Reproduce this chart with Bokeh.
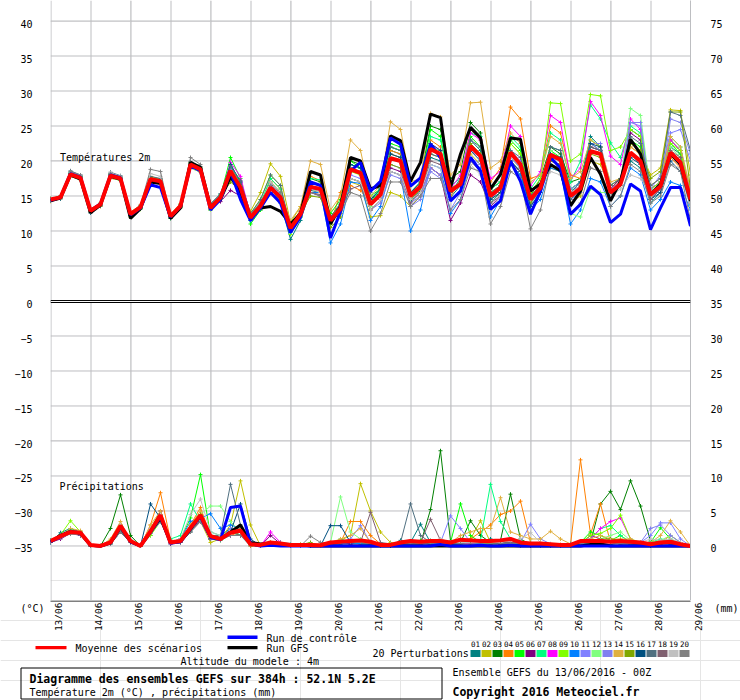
import math
from bokeh.plotting import figure
from bokeh.models import Range1d, LinearAxis, FixedTicker, Span, Label
from bokeh.layouts import column
from bokeh.embed import file_html
from bokeh.resources import INLINE
from bokeh.core.properties import value

FONT = "DejaVu Sans Mono"

# ---------------- data ----------------
dates = ["13/06", "14/06", "15/06", "16/06", "17/06", "18/06", "19/06", "20/06", "21/06",
         "22/06", "23/06", "24/06", "25/06", "26/06", "27/06", "28/06", "29/06"]
day_ticks = list(range(17))
temp_ticks = [40, 35, 30, 25, 20, 15, 10, 5, 0, -5, -10, -15, -20, -25, -30, -35]
prec_ticks = [75, 70, 65, 60, 55, 50, 45, 40, 35, 30, 25, 20, 15, 10, 5, 0]
hours = list(range(0, 385, 6))

member_labels = ["01", "02", "03", "04", "05", "06", "07", "08", "09", "10",
                 "11", "12", "13", "14", "15", "16", "17", "18", "19", "20"]
member_colors = ["#008080", "#C0C000", "#008000", "#FF8000", "#00FF00", "#800080", "#00FF80",
                 "#FF00FF", "#80FF00", "#0080FF", "#8080FF", "#80FF80", "#8080F0", "#E0B040",
                 "#80A800", "#005080", "#507080", "#806070", "#C0C0C0", "#808080"]

# temperature 2m (degC), 6-hourly
T_MEAN = [14.5,14.8,18.1,17.6, 12.9,13.8,17.9,17.5, 12.4,13.4,17.4,17.1, 12.1,13.6,19.5,18.8,
          13.3,14.8,18.6,16.2, 11.9,13.6,16.2,14.8, 10.4,12.4,16.3,16.0, 11.5,13.2,18.8,18.3,
          13.8,15.2,20.4,20.0, 15.0,16.4,21.7,21.0, 15.7,16.7,22.1,20.7, 15.0,16.2,21.2,19.5,
          14.5,16.2,20.9,20.2, 15.0,16.1,21.4,21.0, 15.5,16.7,21.2,20.0, 15.2,16.4,21.2,19.8, 14.5]
T_CTRL = [14.4,14.8,18.2,17.7, 12.9,13.9,18.0,17.6, 12.3,13.3,16.6,16.2, 12.0,13.5,19.3,18.6,
          13.0,14.5,18.5,14.5, 11.5,13.3,15.5,14.0, 9.8,12.0,17.0,16.5, 9.0,12.8,18.6,19.8,
          15.7,17.1,23.3,22.4, 16.4,17.6,22.4,20.5, 14.3,15.7,20.5,18.6, 13.1,14.3,20.0,17.1,
          12.4,15.7,20.5,19.0, 12.4,13.8,16.4,15.2, 11.2,12.4,16.7,15.7, 10.2,13.3,16.2,16.2, 10.7]
T_GFS = [14.3,14.7,18.0,17.4, 12.6,13.7,17.8,17.4, 11.8,13.2,17.0,16.8, 11.8,13.3,19.8,19.1,
         13.5,14.5,17.8,15.5, 12.0,13.3,13.5,12.8, 11.0,12.5,18.5,18.0, 11.0,13.5,20.5,20.0,
         16.0,16.5,23.6,22.9, 17.1,19.8,26.7,26.2, 16.2,21.0,24.8,23.3, 16.0,18.1,23.3,23.1,
         15.7,16.7,19.5,18.6, 13.6,15.7,20.5,18.1, 14.3,17.1,23.1,21.0, 15.2,16.7,21.0,19.5, 14.3]
T01 = [14.3,14.9,18.4,17.9, 12.6,13.6,18.2,17.8, 12.2,13.2,17.0,16.8, 12.0,13.4,19.8,19.0,
       13.8,15.3,19.5,17.0, 12.5,14.0,15.5,14.0, 8.8,11.5,15.8,15.5, 11.0,13.0,19.5,19.0,
       14.5,16.0,21.5,21.0, 14.2,15.8,20.5,20.0, 14.8,16.5,23.0,21.5, 14.0,15.5,19.5,18.0,
       13.5,15.5,22.0,21.5, 16.0,17.0,23.5,22.0, 16.5,17.5,20.0,19.0, 14.0,15.5,22.0,21.0, 15.0]
T02 = [14.6,15.0,18.0,17.5, 13.1,14.0,17.6,17.2, 12.7,13.7,17.8,17.4, 12.4,13.9,19.2,18.5,
       13.5,14.6,18.0,15.5, 12.8,15.5,19.6,17.8, 11.2,13.5,17.0,16.5, 12.0,13.5,17.0,16.5,
       12.0,12.2,15.5,15.0, 13.5,15.0,19.0,18.0, 14.5,15.5,21.0,19.5, 14.5,15.5,22.5,21.0,
       15.0,16.5,19.0,18.5, 14.0,15.0,20.0,19.5, 16.0,17.0,22.5,21.5, 18.0,19.0,27.3,27.2, 18.0]
T03 = [14.4,14.7,18.3,17.8, 12.8,13.9,18.1,17.6, 12.5,13.5,17.6,17.3, 12.2,13.7,19.7,18.9,
       13.0,14.5,17.5,15.8, 11.5,13.0,17.0,15.5, 10.0,12.0,17.5,17.0, 12.0,13.8,20.0,19.5,
       14.5,15.5,22.0,21.5, 16.5,17.5,25.0,24.5, 17.5,18.5,25.5,24.0, 16.0,17.0,20.0,18.5,
       15.0,17.5,22.0,21.0, 17.0,17.5,22.5,21.5, 15.0,16.5,24.5,23.5, 16.0,17.0,23.0,21.5, 15.5]
T04 = [14.2,14.6,17.8,17.3, 12.7,13.5,17.5,17.3, 12.3,13.3,17.2,16.9, 11.9,13.3,19.0,18.4,
       13.1,14.7,17.8,16.0, 12.0,13.5,17.5,16.0, 10.8,13.0,17.8,17.2, 11.0,15.5,16.5,15.8,
       14.0,15.0,21.5,21.0, 15.5,16.5,23.0,22.0, 15.0,17.0,24.5,23.0, 17.0,19.0,27.7,26.0,
       17.5,18.0,25.0,24.0, 18.0,17.5,22.0,21.5, 16.0,17.5,22.0,21.0, 15.0,16.0,20.5,19.0, 14.0]
T05 = [14.6,14.9,18.2,17.7, 13.0,13.9,17.8,17.4, 12.4,13.4,17.3,17.0, 11.9,13.5,19.3,18.7,
       13.2,15.0,20.5,17.5, 11.0,13.0,15.5,14.5, 10.0,12.5,17.0,16.5, 12.5,14.5,20.0,19.0,
       15.0,16.0,22.5,22.0, 15.5,17.0,24.5,23.5, 16.0,17.0,23.5,22.0, 15.5,16.5,23.0,21.5,
       14.0,15.5,21.5,20.5, 16.0,17.0,23.0,22.0, 15.5,17.0,23.0,22.0, 14.5,16.0,22.5,21.0, 13.5]
T06 = [14.4,14.8,18.0,17.5, 12.9,13.7,17.7,17.4, 12.3,13.3,17.2,16.9, 12.0,13.5,19.4,18.6,
       13.6,14.2,15.8,15.0, 12.0,13.8,16.5,15.0, 10.5,12.5,15.5,15.0, 11.5,12.5,17.5,17.0,
       13.0,14.5,19.0,18.5, 14.5,15.5,19.0,18.0, 11.5,14.0,18.0,17.0, 13.5,15.0,20.5,19.0,
       14.0,16.0,20.0,19.5, 15.5,16.5,22.0,21.5, 16.0,17.5,24.0,23.0, 14.5,16.0,21.0,19.5, 14.0]
T07 = [14.5,14.9,18.3,17.8, 12.8,13.8,18.0,17.6, 12.5,13.5,17.5,17.2, 12.2,13.7,19.6,18.9,
       13.4,15.2,19.2,16.8, 12.3,14.0,17.5,16.0, 10.2,12.5,17.5,17.3, 11.8,13.5,19.5,19.0,
       14.0,16.0,22.0,21.5, 15.0,16.5,23.5,23.0, 16.5,17.5,24.0,23.5, 16.0,17.0,23.5,22.0,
       16.0,18.0,24.0,23.0, 17.0,20.0,28.0,26.0, 22.6,20.5,25.0,24.0, 15.5,17.0,23.5,22.0, 15.0]
T08 = [14.5,14.7,18.0,17.6, 12.9,13.8,17.9,17.5, 12.4,13.4,17.4,17.1, 12.1,13.6,19.5,18.8,
       13.5,14.8,19.8,17.8, 12.2,13.5,16.5,15.0, 10.5,12.5,16.0,15.5, 11.5,13.0,19.0,18.5,
       14.0,15.5,21.0,20.5, 14.5,16.0,22.5,21.5, 16.0,18.0,24.0,23.0, 17.5,18.5,25.0,23.5,
       16.5,18.5,26.5,25.5, 17.5,19.0,28.5,26.5, 20.7,19.5,26.0,24.5, 16.0,17.0,23.0,21.5, 15.5]
T09 = [14.6,14.8,17.9,17.5, 12.8,13.7,17.8,17.3, 12.0,13.1,17.5,17.2, 11.8,13.4,19.7,19.0,
       13.0,14.5,18.5,16.0, 12.5,14.5,18.0,16.5, 9.5,12.0,16.0,15.5, 11.0,13.0,18.5,18.0,
       13.5,15.5,21.0,20.5, 14.5,16.0,21.5,21.0, 15.5,16.5,22.0,20.5, 14.5,16.5,22.5,21.0,
       15.5,17.5,28.3,28.2, 20.0,21.0,29.5,29.3, 21.5,22.0,24.5,23.5, 16.0,17.0,22.5,21.5, 15.0]
T10 = [14.4,14.7,18.0,17.5, 12.9,13.8,18.0,17.6, 12.4,13.3,17.3,17.0, 12.0,13.5,19.4,18.8,
       13.2,14.6,18.0,15.8, 11.5,13.2,15.5,14.0, 9.8,12.0,15.5,15.5, 8.3,11.0,17.0,16.8,
       11.5,13.5,18.5,18.0, 10.0,13.0,19.5,19.0, 12.5,14.5,20.0,19.0, 12.0,14.5,19.5,18.0,
       13.0,14.5,19.0,18.5, 11.0,13.0,17.5,17.0, 13.5,15.0,19.0,18.0, 13.0,14.5,17.0,16.5, 13.0]
T11 = [14.5,14.8,18.1,17.6, 12.9,13.8,17.9,17.5, 12.4,13.4,17.4,17.1, 12.1,13.6,19.5,18.8,
       13.3,14.8,18.6,16.2, 12.0,13.5,16.0,15.0, 10.5,12.5,16.0,15.8, 11.5,13.0,18.0,17.5,
       13.5,15.0,19.5,19.0, 14.0,15.0,19.0,18.0, 13.0,15.5,20.5,19.5, 14.5,16.0,21.5,20.0,
       13.5,15.5,21.0,20.0, 16.0,17.0,22.5,21.5, 15.5,17.0,25.5,25.0, 16.0,18.0,24.0,24.5, 20.0]
T12 = [14.3,14.6,17.8,17.3, 12.7,13.6,17.6,17.2, 12.2,13.2,17.1,16.8, 11.9,13.3,19.0,18.4,
       13.0,14.5,18.0,16.0, 11.8,13.5,16.0,14.5, 10.0,12.0,16.5,16.0, 11.5,13.0,19.0,18.5,
       13.5,15.0,20.5,20.0, 15.0,16.5,22.0,21.5, 16.0,17.0,22.5,21.0, 15.0,16.0,20.5,19.0,
       14.5,16.5,21.5,20.0, 12.5,12.0,16.0,15.5, 15.5,17.0,27.5,26.5, 15.5,17.0,22.0,20.5, 14.5]
T13 = [14.5,14.9,18.2,17.7, 13.0,13.9,18.0,17.6, 12.5,13.5,17.5,17.2, 12.2,13.7,19.6,18.9,
       13.4,14.9,18.8,16.4, 12.2,13.8,16.8,15.2, 10.8,12.8,16.8,16.5, 11.8,13.5,17.5,17.0,
       13.0,14.0,18.0,17.5, 13.5,14.5,18.5,17.5, 14.5,15.5,21.5,20.5, 14.5,16.0,20.5,19.0,
       14.0,15.5,21.0,20.5, 14.5,15.5,22.5,22.5, 16.0,17.0,25.5,25.5, 14.5,16.0,26.0,25.5, 21.0]
T14 = [14.4,14.7,17.9,17.4, 12.8,13.7,17.8,17.3, 12.3,13.4,17.6,17.2, 12.0,13.5,19.4,18.7,
       13.1,14.7,18.4,16.0, 12.0,13.6,17.0,15.5, 11.5,13.5,20.0,19.5, 13.0,15.0,23.0,21.5,
       15.0,16.5,25.6,24.5, 17.0,17.5,26.8,26.3, 18.0,19.5,28.3,28.4, 19.0,20.0,24.0,22.5,
       17.0,18.0,23.5,22.5, 17.5,18.5,23.0,22.0, 17.0,17.5,22.0,21.0, 16.5,17.5,23.5,22.0, 16.0]
T15 = [14.6,15.0,18.2,17.8, 13.1,14.0,18.1,17.7, 12.6,13.6,17.6,17.3, 12.3,13.8,19.8,19.1,
       13.6,14.9,17.0,15.8, 12.0,13.5,16.5,15.0, 11.0,12.5,15.0,14.8, 10.5,12.0,17.5,17.0,
       13.0,14.5,19.5,19.0, 14.5,16.0,21.0,20.5, 16.0,17.0,22.5,21.0, 15.0,16.0,21.0,19.5,
       14.0,16.0,20.0,19.5, 15.0,16.0,21.0,20.5, 16.5,17.5,22.5,21.5, 17.5,18.5,27.0,27.0, 16.0]
T16 = [14.3,14.6,18.2,17.7, 12.6,13.6,18.0,17.5, 12.2,13.2,17.2,16.9, 11.8,13.4,19.6,18.9,
       13.5,15.0,19.5,17.0, 11.8,13.5,16.5,15.0, 10.0,12.5,17.0,16.5, 11.5,13.5,19.5,19.0,
       14.5,16.0,21.0,20.5, 15.5,17.0,22.5,21.5, 15.5,16.5,21.5,20.0, 14.5,15.5,20.0,18.5,
       13.5,15.5,21.0,20.5, 15.5,17.0,22.5,22.0, 15.5,16.5,20.5,19.5, 14.5,15.5,20.0,18.5, 13.5]
T17 = [14.5,15.0,18.6,18.0, 12.9,13.9,18.4,17.9, 12.6,13.6,17.8,17.5, 12.1,13.6,19.9,19.2,
       13.9,15.3,19.2,17.2, 12.5,14.5,18.0,16.5, 10.5,12.5,16.5,16.0, 12.0,14.0,19.0,18.5,
       15.5,17.0,22.0,21.5, 15.5,16.5,21.0,20.5, 15.5,17.5,23.0,22.0, 15.5,16.5,21.5,20.5,
       15.0,16.5,22.0,21.5, 14.5,16.0,22.0,21.5, 16.5,17.5,23.5,22.5, 16.5,17.5,27.0,26.5, 21.5]
T18 = [14.6,14.8,18.0,17.6, 12.8,13.7,17.7,17.3, 12.3,13.3,17.3,17.0, 12.0,13.5,19.3,18.6,
       13.4,14.8,17.5,15.5, 12.3,13.8,15.5,14.5, 10.8,12.8,15.5,15.2, 11.5,13.0,16.0,16.5,
       13.0,14.5,18.5,18.0, 14.0,15.5,20.0,19.5, 14.5,15.5,20.0,18.5, 14.0,15.0,19.5,18.5,
       15.0,16.0,20.5,20.0, 15.5,16.5,21.5,21.0, 15.0,16.5,21.0,19.5, 14.5,16.0,21.5,20.5, 14.5]
T19 = [14.4,14.7,18.4,17.9, 12.7,13.8,18.3,17.8, 12.3,13.4,18.2,17.8, 12.0,13.6,19.7,19.0,
       13.2,14.6,18.0,16.0, 12.0,13.8,17.0,15.5, 10.5,12.5,16.0,15.5, 11.5,13.0,17.5,17.0,
       13.0,14.5,18.5,18.0, 14.5,15.5,19.5,19.0, 14.5,15.5,19.5,18.0, 13.0,15.0,20.5,19.5,
       14.5,16.0,18.5,18.0, 15.5,16.5,19.0,18.5, 15.0,16.0,18.0,17.5, 15.5,16.5,19.5,19.0, 13.5]
T20 = [14.6,15.0,18.5,18.0, 12.9,13.9,18.2,17.7, 12.6,13.7,18.8,18.5, 12.2,13.8,20.5,19.5,
       13.8,15.0,18.5,16.5, 12.5,14.0,16.5,15.5, 10.8,12.5,15.5,15.0, 11.5,12.5,15.5,15.0,
       10.0,12.5,17.0,17.0, 13.5,15.0,17.5,17.5, 13.0,14.5,19.0,18.5, 11.0,13.5,18.5,17.5,
       10.3,13.0,19.5,19.0, 12.5,14.0,19.0,18.5, 13.5,15.0,19.5,18.5, 14.0,15.0,19.5,18.5, 11.5]

# precipitation (mm / 6h)
R_MEAN = [0.7,1.4,2.0,1.9, 0.15,0.0,0.5,2.9, 0.7,0.0,2.1,4.4, 0.5,0.7,2.6,4.4,
          1.4,1.0,1.9,2.2, 0.25,0.15,0.5,0.35, 0.15,0.15,0.15,0.1, 0.5,0.6,0.7,0.8,
          0.6,0.15,0.15,0.5, 0.7,0.6,0.7,0.7, 0.5,0.9,0.8,0.7, 0.7,0.8,1.0,0.5,
          0.35,0.35,0.25,0.15, 0.15,0.7,0.7,0.7, 0.6,0.7,0.6,0.5, 0.25,0.5,0.6,0.25, 0.0]
R_CTRL = [0.6,1.4,2.0,1.9, 0.1,0,0.5,2.8, 0.6,0,2.0,4.2, 0.4,0.6,2.5,4.2,
          1.2,0.9,5.5,5.7, 0.3,0,0.1,0, 0,0,0,0, 0,0,0,0,
          0,0,0,0, 0,0,0,0.2, 0,0,0,0.1, 0,0,0.1,0,
          0,0,0,0, 0,0,0,0, 0,0,0,0, 0,0,0,0, 0]
R_GFS = [0.6,1.5,2.1,1.8, 0.1,0,0.4,2.7, 0.6,0,2.0,4.0, 0.5,0.6,2.4,4.3,
         1.3,1.0,2.0,3.0, 0.5,0.3,0.4,0.3, 0.2,0.2,0,0, 0,0,0,0,
         0,0,0,0, 0,0,0,0, 0,0,0,0, 0,0,0,0,
         0,0,0,0, 0,0,0.2,0.3, 0,0,0,0, 0,0,0,0, 0]
R01 = [0.5,1.9,2.5,2.0, 0.2,0,0.3,2.5, 0.5,0,1.5,4.0, 0.3,0.5,2.0,4.5,
       1.0,1.5,2.5,1.5, 0,0,0.3,0.2, 0,0,0,0, 0.2,0.5,0.3,0.5,
       0.3,0,0,0.8, 0.5,3.1,0.5,0.3, 0.2,0.3,0.5,0.5, 1.0,0.5,0.3,0.2,
       0,0,0,0, 0.2,0.5,0.5,0.3, 0.2,0.5,0.3,0.2, 0,0.3,0.5,0.2, 0]
R02 = [0.8,1.5,2.0,1.8, 0,0,0.5,3.0, 0.5,0,2.5,5.0, 0.5,1.0,2.5,3.5,
       0.5,1.0,3.0,9.3, 3.0,0,0.5,0.3, 0.2,0,0.3,0.2, 0.5,0.8,1.5,8.9,
       5.0,2.0,0.5,0.2, 0.3,0.2,0.5,0.5, 0.3,0.8,1.0,3.6, 0.5,0.3,0.3,0,
       0.2,0,0,0, 0,0.5,0.8,1.0, 0.5,0.3,0.5,0.3, 0.2,0.5,0.8,0.3, 0]
R03 = [0.5,1.2,2.0,1.5, 0,0,2.5,7.3, 1.5,0,2.5,4.0, 0.5,0.5,2.5,3.5,
       1.5,1.0,2.5,2.0, 0.3,0,0.3,0.5, 0,0,0,0.2, 0.3,0.5,0.8,0.5,
       0.5,0,0,0.3, 0.3,0.3,5.2,13.6, 0.7,0.5,3.6,1.5, 0.5,0.8,7.4,1.0,
       0.2,0,0,0, 0,0.5,0.5,6.0, 7.8,5.2,9.3,5.7, 0.7,0.3,0.5,0.2, 0]
R04 = [0.7,1.3,2.2,2.0, 0,0,0.8,2.5, 0.5,0,3.0,7.6, 0.8,0.5,3.0,5.5,
       1.5,1.0,1.5,2.0, 0,0,0.5,0.3, 0,0.2,0,0, 0.3,0.5,3.5,3.5,
       1.5,0.3,0.2,0.3, 0.5,0.5,0.8,0.5, 0.3,0.5,1.0,2.0, 3.0,4.5,5.0,6.4,
       0.5,0.3,0.2,0.2, 0.2,12.3,1.7,6.0, 0.5,0.8,0.5,0.5, 0.3,0.5,1.5,0.5, 0]
R05 = [0.6,1.5,2.3,1.8, 0,0,0.5,2.0, 0.8,0,2.0,4.5, 0.5,1.0,4.0,10.2,
       1.5,0.8,2.0,1.5, 0.2,0,0.2,0.3, 0,0,0,0, 0.5,0.3,0.5,0.5,
       0.3,0,0.2,0.5, 0.5,0.8,0.5,0.3, 0.5,6.0,1.5,0.5, 0.3,0.5,1.0,0.8,
       0.3,0.2,0,0, 0.3,0.5,2.0,1.5, 0.8,1.5,0.5,0.3, 0.5,2.6,1.0,0.3, 0]
R06 = [0.5,1.0,1.8,1.5, 0,0,0.5,2.5, 0.8,0,2.2,5.0, 0.3,0.8,2.5,4.0,
       1.0,1.0,1.5,1.5, 0.2,0,1.5,0.3, 0,0,0,0, 0.5,0.5,0.3,0.5,
       0.3,0.2,0,0.3, 0.5,0.3,0.5,0.5, 0.3,0.8,0.5,0.5, 0.5,0.3,0.5,0.2,
       0,0,0.2,0, 0.2,0.3,1.5,1.0, 0.5,0.8,0.3,0.2, 0.2,0.3,0.5,0.2, 0]
R07 = [0.8,1.5,2.0,1.8, 0,0,0.3,2.0, 0.5,0,2.0,3.5, 1.0,1.5,6.0,3.5,
       2.0,1.5,2.0,1.5, 0.2,0,0.2,0.5, 0.2,0,0,0, 0.3,1.0,0.5,0.3,
       0.2,0,0.3,0.5, 0.3,0.5,0.8,0.5, 0.5,1.0,0.5,0.8, 8.8,3.5,1.0,0.5,
       0.3,0,0,0, 0.2,0.5,1.0,2.5, 2.9,1.5,0.5,0.3, 0.5,1.0,0.5,0.3, 0]
R08 = [0.6,1.4,1.9,1.7, 0,0,0.5,2.8, 0.5,0,2.5,4.0, 0.5,0.5,3.0,4.5,
       1.5,1.0,1.5,1.5, 0.3,0,2.0,0.5, 0,0,0.2,0, 0.3,0.5,0.5,0.5,
       0.5,0,0.2,0.3, 0.5,0.5,0.3,0.5, 0.5,0.5,0.3,0.5, 0.5,0.8,0.5,0.3,
       0.2,0,0,0, 0.2,0.5,1.0,2.5, 3.5,4.0,1.0,0.3, 0.2,0.5,0.3,0.2, 0]
R09 = [0.7,1.6,3.6,2.0, 0,0,0.5,2.5, 0.5,0,1.5,3.5, 0.5,0.8,2.5,4.0,
       1.5,1.5,2.0,2.0, 0.3,0,0.3,0.3, 0,0,0,0, 0.5,0.5,0.5,0.5,
       0.3,0,0.3,0.5, 0.3,0.5,0.5,0.5, 0.5,0.5,0.5,0.5, 0.5,0.5,0.8,0.5,
       0.3,0.2,0,0, 0,0.5,1.5,1.8, 2.5,4.4,1.0,0.5, 0.3,0.5,0.5,0.3, 0]
R10 = [0.5,1.3,2.0,1.6, 0,0,0.5,2.5, 0.8,0,2.0,4.0, 0.5,1.0,3.5,4.0,
       4.6,2.5,3.0,2.5, 0.5,0,0.2,0.3, 0,0,0,0, 0.2,0.3,0.5,0.3,
       0.3,0,0,0.2, 0.3,0.5,0.2,0.3, 0.3,0.5,0.5,0.3, 0.5,0.3,0.2,0.3,
       0.2,0,0,0, 0.3,0.3,0.5,0.3, 0.5,0.3,0.3,0.2, 0.3,0.5,0.5,0.2, 0]
R11 = [0.6,1.2,1.8,1.6, 0,0,0.3,2.0, 0.5,0,1.8,3.5, 0.5,1.0,2.5,3.5,
       1.5,1.0,2.5,2.0, 0.2,0,0.3,0.2, 0,0,0,0, 0.3,0.5,1.0,2.9,
       0.5,0,0.3,0.5, 0.3,0.5,0.5,0.5, 4.3,2.5,0.5,0.5, 0.5,0.3,0.5,0.5,
       3.1,1.0,0.3,0, 0.2,0.5,1.0,0.8, 0.5,0.5,0.5,0.5, 1.5,3.3,3.3,1.0, 0]
R12 = [0.8,1.5,2.2,1.8, 0,0,0.5,3.0, 0.5,0,2.0,4.0, 0.5,0.8,3.0,4.5,
       5.7,5.7,3.5,2.0, 0.3,0,0.2,0.3, 0,0,0,0, 0.5,7.0,2.0,1.0,
       0.5,0.3,0.2,0.5, 0.3,0.5,0.5,0.8, 0.5,0.8,0.5,0.5, 0.5,0.5,1.0,0.5,
       0.3,0.2,0,0, 0.2,0.3,0.8,1.0, 1.5,2.0,0.8,0.5, 0.5,0.8,1.5,0.5, 0]
R13 = [0.7,1.4,2.0,1.9, 0,0,0.5,2.5, 0.5,0,2.2,4.5, 0.5,0.5,2.5,4.0,
       1.5,1.0,2.0,2.0, 0.2,0,0.3,0.3, 0.2,0,0,0, 0.3,0.5,0.5,0.5,
       0.5,0,0.3,0.5, 0.5,0.5,0.5,0.5, 0.5,0.5,0.5,0.5, 0.5,0.5,0.5,0.5,
       0.3,0.2,0,0, 0.3,0.5,0.8,0.8, 0.8,0.5,0.5,0.5, 2.5,3.0,1.5,0.5, 0]
R14 = [0.7,1.5,2.5,2.2, 0,0,1.0,3.5, 0.5,0,3.0,5.0, 0.8,0.8,3.0,5.0,
       1.5,1.0,2.0,2.5, 0.3,0,0.2,0.3, 0,0,0,0, 0.5,1.0,1.5,2.5,
       0.5,0,0.3,0.5, 0.5,0.5,0.5,1.0, 0.5,1.5,2.0,2.5, 2.5,6.9,2.0,1.5,
       1.0,1.0,2.1,1.0, 0.3,0.5,1.0,1.5, 1.0,1.0,1.0,0.5, 0.5,1.5,3.6,2.0, 0]
R15 = [0.6,1.3,2.0,1.8, 0,0,0.5,2.5, 0.5,0,2.0,4.5, 0.5,0.8,2.5,4.5,
       1.5,1.0,2.0,2.0, 0.3,0,0.3,0.2, 0,0.2,0.5,0, 0.3,0.5,0.5,0.5,
       0.3,0,0.2,0.5, 0.3,0.5,0.5,0.5, 0.5,0.5,0.8,0.5, 0.3,0.5,0.5,0.3,
       0.2,0,0,0, 0.2,0.5,0.8,1.0, 1.0,0.8,0.5,0.3, 0.3,0.8,0.5,0.2, 0]
R16 = [0.8,1.5,2.0,1.8, 0,0,0.5,2.0, 0.5,0,6.0,4.0, 0.5,0.8,2.5,4.0,
       1.0,1.0,2.0,6.0, 1.0,0,0.2,0.3, 0,0,0,0, 2.9,2.9,0.5,0.5,
       0.3,0,0,0.5, 0.3,0.5,0.3,0.3, 0.3,0.5,0.5,0.5, 0.5,0.3,0.3,0.3,
       0.2,0,0,0, 0.2,0.3,0.5,0.5, 0.5,0.5,0.3,0.3, 0.3,0.5,0.3,0.2, 0]
R17 = [0.7,1.6,2.1,1.9, 0,0,0.5,2.5, 0.5,0,2.0,4.0, 0.5,0.5,2.0,3.5,
       1.5,1.5,8.8,3.0, 0.3,0,0.2,0.3, 0,0,0,0, 0.3,0.5,0.5,0.5,
       0.3,0,0.3,0.5, 6.0,1.5,0.5,0.5, 0.5,0.5,0.5,0.5, 0.5,0.5,0.5,0.3,
       0.2,0,0,0, 0.2,0.5,0.5,0.5, 0.5,0.5,0.3,0.3, 0.3,0.5,0.5,0.2, 0]
R18 = [0.6,1.4,1.9,1.7, 0,0,0.3,2.0, 0.5,0,2.0,4.0, 0.5,0.8,2.5,3.5,
       1.0,1.0,2.0,1.5, 0.2,0,0.2,0.3, 0,0,0.2,0, 0.3,0.5,0.5,0.5,
       4.8,0.5,0.3,0.5, 0.5,0.5,3.8,0.8, 0.5,0.5,0.5,0.5, 0.5,0.5,0.5,0.5,
       0.3,0,0,0, 0.2,0.5,0.8,0.8, 0.5,0.5,0.5,0.3, 0.3,0.5,0.5,0.2, 0]
R19 = [0.7,1.5,2.0,1.8, 0,0,0.5,3.0, 0.5,0,2.5,4.5, 0.5,1.0,4.5,6.7,
       2.0,1.5,2.0,2.0, 0.3,0,0.2,0.3, 0,0,0.2,0, 0.3,0.5,0.5,0.5,
       0.5,0,0.3,0.5, 0.5,0.5,0.8,1.0, 0.5,0.5,0.5,0.5, 0.5,0.5,0.8,1.0,
       1.9,0.5,0.3,0, 0.2,0.5,0.8,0.8, 0.8,0.5,0.5,0.5, 1.0,0.8,1.0,0.5, 0]
R20 = [0.6,1.2,1.7,1.6, 0,0,0.3,2.0, 0.5,0,1.8,3.5, 0.5,0.5,2.0,3.5,
       1.0,0.8,1.5,1.5, 0.2,0,0.2,0.2, 0,0,1.4,0.5, 0.3,0.5,0.5,0.5,
       0.3,0,0.2,0.3, 0.3,0.3,0.3,0.3, 0.3,0.3,0.3,0.3, 0.3,0.3,0.3,0.3,
       0.2,0,0,0, 0.2,0.3,0.5,0.5, 0.5,0.3,0.3,0.3, 0.3,0.3,0.3,0.2, 0]

T_PERTS = [T01, T02, T03, T04, T05, T06, T07, T08, T09, T10,
           T11, T12, T13, T14, T15, T16, T17, T18, T19, T20]
R_PERTS = [R01, R02, R03, R04, R05, R06, R07, R08, R09, R10,
           R11, R12, R13, R14, R15, R16, R17, R18, R19, R20]

# ---------------- main chart ----------------
x_days = [h / 24.0 for h in hours]
Y_BOT, Y_TOP = -42.79, 42.93          # temperature scale of the frame (7 px per degree)
P_OFF = 35.0                          # right scale = left + 35
LAB_SHIFT = 0.36                      # tick labels sit slightly under their grid line
GRID = "#BDBEC1"
NAN = float("nan")

p = figure(width=740, height=600, x_range=Range1d(0, 16), y_range=Range1d(Y_BOT, Y_TOP),
           output_backend="svg", toolbar_location=None,
           x_axis_location=None, y_axis_location=None,
           min_border_left=50, min_border_right=50, min_border_top=0, min_border_bottom=0,
           outline_line_color=None, background_fill_color=None, border_fill_color=None,
           frame_align=False)
p.extra_y_ranges = {
    "prec": Range1d(Y_BOT + P_OFF, Y_TOP + P_OFF),
    "ltick": Range1d(Y_BOT + LAB_SHIFT, Y_TOP + LAB_SHIFT),
    "rtick": Range1d(Y_BOT + P_OFF + LAB_SHIFT, Y_TOP + P_OFF + LAB_SHIFT),
}
# half-pixel shifted copy of the day scale so the 1px grid lines fall on whole pixels
p.extra_x_ranges = {"gridx": Range1d(-0.0125, 15.9875)}

ax_l = LinearAxis(y_range_name="ltick", ticker=FixedTicker(ticks=temp_ticks),
                  axis_line_color=None, major_tick_line_color=None, minor_tick_line_color=None,
                  major_tick_out=0, major_tick_in=0, major_label_standoff=18,
                  major_label_text_font=FONT, major_label_text_font_size="10px",
                  major_label_text_color="black")
p.add_layout(ax_l, "left")
ax_r = LinearAxis(y_range_name="rtick", ticker=FixedTicker(ticks=prec_ticks),
                  axis_line_color=GRID, axis_line_width=1,
                  major_tick_line_color=None, minor_tick_line_color=None,
                  major_tick_out=0, major_tick_in=0, major_label_standoff=20,
                  major_label_text_font=FONT, major_label_text_font_size="10px",
                  major_label_text_color="black")
p.add_layout(ax_r, "right")

# grid lines: one broken line per direction, drawn first so the series cover them
vx, vy = [], []
for d in day_ticks:
    vx += [d, d, NAN]
    vy += [Y_BOT, Y_TOP, NAN]
hx, hy = [], []
for t in temp_ticks:
    hx += [day_ticks[0], day_ticks[-1], NAN]
    hy += [t, t, NAN]
p.line(vx, vy, x_range_name="gridx", line_color=GRID, line_width=1)
p.line(hx, hy, line_color=GRID, line_width=1)

# double line at 0 degC
p.add_layout(Span(location=-0.07, dimension="width", line_color="black", line_width=3))
p.add_layout(Span(location=-0.07, dimension="width", line_color="white", line_width=1))

# perturbations
for col, tv, rv in zip(member_colors, T_PERTS, R_PERTS):
    p.line(x_days, tv, line_color=col, line_width=1)
    p.scatter(x_days, tv, marker="cross", size=4, line_color=col, line_width=1)
    p.line(x_days, rv, line_color=col, line_width=1, y_range_name="prec")
    p.scatter(x_days, rv, marker="cross", size=4, line_color=col, line_width=1,
              y_range_name="prec")

for tv, rv, col, w in ((T_GFS, R_GFS, "black", 3), (T_CTRL, R_CTRL, "#0000FF", 3),
                       (T_MEAN, R_MEAN, "#FF0000", 4)):
    p.line(x_days, tv, line_color=col, line_width=w)
    p.line(x_days, rv, line_color=col, line_width=w, y_range_name="prec")

p.add_layout(Label(x=0.2375, y=20.57, text="Températures 2m", text_font=FONT,
                   text_font_size="10px", text_baseline="middle", text_align="left",
                   text_color="black"))
p.add_layout(Label(x=0.225, y=-26.57, text="Précipitations", text_font=FONT,
                   text_font_size="10px", text_baseline="middle", text_align="left",
                   text_color="black"))

# ---------------- bottom strip: dates, units, legend, caption ----------------
q = figure(width=740, height=100, x_range=Range1d(0, 740), y_range=Range1d(700, 600),
           output_backend="svg", toolbar_location=None,
           x_axis_location=None, y_axis_location=None, min_border=0,
           min_border_left=0, min_border_right=0, min_border_top=0, min_border_bottom=0,
           outline_line_color=None, background_fill_color=None, border_fill_color=None,
           frame_align=False)
q.extra_x_ranges = {"days": Range1d(-1.25, 17.25)}

# x axis line and date labels
q.segment(x0=[day_ticks[0]], y0=[600.5], x1=[day_ticks[-1]], y1=[600.5], x_range_name="days",
          line_color="black", line_width=1)
q.text(x=day_ticks, y=[602] * len(day_ticks), text=dates, x_range_name="days",
       x_offset=7.5, angle=math.pi / 2, text_align="right", text_baseline="middle",
       text_font=value(FONT), text_font_size=value("9.5px"), text_color="black")


def txt(x, y, s, size="10px", bold=False):
    q.text(x=[x], y=[y], text=[s], text_font=value(FONT), text_font_size=value(size),
           text_font_style="bold" if bold else "normal", text_align="left",
           text_baseline="middle", text_color="black")


txt(20, 607.5, "(°C)")
txt(714, 607.5, "(mm)")

q.quad(left=[35], right=[66], top=[645.5], bottom=[648.8], fill_color="#FF0000", line_color=None)
q.quad(left=[227], right=[257], top=[635], bottom=[638.5], fill_color="#0000FF", line_color=None)
q.quad(left=[227], right=[257], top=[645.5], bottom=[648.8], fill_color="black", line_color=None)

sw_left = [470 + 11 * k for k in range(len(member_colors))]
q.quad(left=sw_left, right=[v + 10 for v in sw_left], top=[649.5] * 20, bottom=[656.5] * 20,
       fill_color=member_colors, line_color=None)
q.text(x=[v + 5 for v in sw_left], y=[643.5] * 20, text=member_labels,
       text_font=value(FONT), text_font_size=value("7.5px"), text_align="center",
       text_baseline="middle", text_color="black")

q.quad(left=[20.5], right=[441.5], top=[667.5], bottom=[698.5], fill_color=None,
       line_color="black", line_width=1)

txt(75, 647.5, "Moyenne des scénarios")
txt(266, 637.5, "Run de contrôle")
txt(266, 647.5, "Run GFS")
txt(180, 661, "Altitude du modele : 4m")
txt(372, 652.5, "20 Perturbations")
txt(29, 678, "Diagramme des ensembles GEFS sur 384h : 52.1N 5.2E", "11.5px", True)
txt(29, 691.5, "Température 2m (°C) , précipitations (mm)")
txt(452, 672, "Ensemble GEFS du 13/06/2016 - 00Z")
txt(452, 691.5, "Copyright 2016 Meteociel.fr", "11.5px", True)

layout = column(p, q, spacing=0)
open("out.html", "w").write(file_html(layout, INLINE))
